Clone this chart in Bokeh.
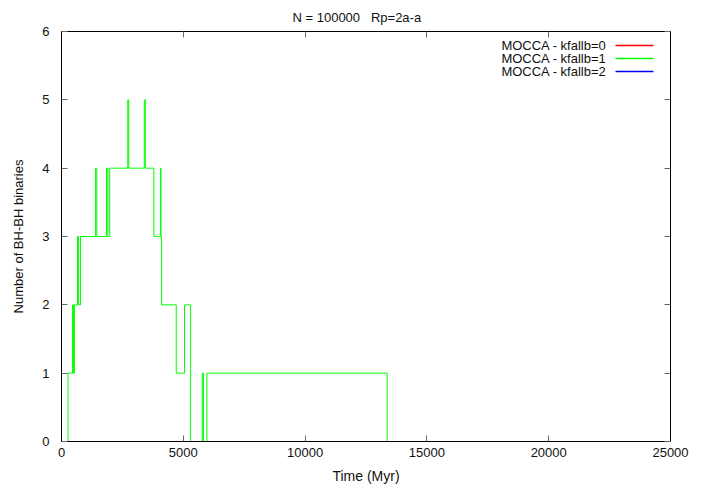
from bokeh.plotting import figure
from bokeh.models import Range1d, LinearAxis, Label, FixedTicker, CustomJSTickFormatter
from bokeh.embed import file_html
from bokeh.resources import INLINE

# ---- data ----
time_myr = [0, 270, 450, 490, 530, 655, 700, 780, 1400, 1450, 1850, 1900, 1980,
            2720, 2760, 3400, 3440, 3790, 4060, 4085, 4105, 4710, 5050, 5300,
            5780, 5830, 5970, 13370, 13400]
n_bhbh_kfallb1 = [0, 1, 2, 1, 2, 3, 2, 3, 4, 3, 4, 3, 4,
                  5, 4, 5, 4, 3, 4, 3, 2, 1, 2, 0,
                  1, 0, 1, 0, 0]
time_kfallb2 = [0, 25000]
n_bhbh_kfallb2 = [0, 0]
time_kfallb0 = []
n_bhbh_kfallb0 = []

legend_labels = ["MOCCA - kfallb=0", "MOCCA - kfallb=1", "MOCCA - kfallb=2"]
series_colors = ["#ff0000", "#00ff00", "#0000ff"]
x_ticks = [0, 5000, 10000, 15000, 20000, 25000]
y_ticks = [0, 1, 2, 3, 4, 5, 6]
title_text = "N = 100000 \u00a0 Rp=2a-a"
x_label = "Time (Myr)"
y_label = "Number of BH-BH binaries"

FONT = "Liberation Sans"
X0, X1, Y0, Y1 = 0, 25000, 0, 6
FW, FH = 609, 410

p = figure(frame_width=FW, frame_height=FH,
           x_range=Range1d(X0, X1), y_range=Range1d(Y0, Y1),
           output_backend="svg", toolbar_location=None,
           min_border_left=61, min_border_right=28, min_border_top=31, min_border_bottom=10,
           background_fill_color="white", border_fill_color="white")

p.title.text = title_text
p.title.align = "left"
p.title.text_font = FONT
p.title.text_font_size = "13px"
p.title.text_font_style = "normal"
p.title.text_color = "#111111"
p.title.offset = 231
p.title.standoff = 14

p.grid.visible = False
p.outline_line_color = "#000000"
p.outline_line_width = 1

for ax in (p.xaxis[0], p.yaxis[0]):
    ax.axis_line_color = "#000000"
    ax.major_tick_in = 6
    ax.major_tick_out = 0
    ax.minor_tick_line_color = None
    ax.major_tick_line_color = "#666666"
    ax.major_label_text_font = FONT
    ax.major_label_text_font_size = "13px"
    ax.major_label_text_color = "#111111"
    ax.axis_label_text_font = FONT
    ax.axis_label_text_font_size = "13px"
    ax.axis_label_text_font_style = "normal"
    ax.axis_label_text_color = "#111111"

p.xaxis[0].ticker = FixedTicker(ticks=x_ticks)
p.yaxis[0].ticker = FixedTicker(ticks=y_ticks)
p.xaxis[0].axis_label = x_label
p.yaxis[0].axis_label = y_label
p.xaxis[0].axis_label_text_font_size = "14px"
p.xaxis[0].major_label_standoff = 6
p.xaxis[0].axis_label_standoff = 8
p.yaxis[0].major_label_standoff = 12
p.yaxis[0].axis_label_standoff = 13

# mirror ticks on top and right (no labels)
blank = CustomJSTickFormatter(code="return ''")
for loc, tk in (("above", x_ticks), ("right", y_ticks)):
    ax = LinearAxis(ticker=FixedTicker(ticks=tk), formatter=blank)
    ax.major_label_standoff = 0
    ax.major_tick_in = 6
    ax.major_tick_out = 0
    ax.minor_tick_line_color = None
    ax.major_tick_line_color = "#666666"
    ax.axis_line_color = "#000000"
    p.add_layout(ax, loc)

# data lines
p.step(time_kfallb0, n_bhbh_kfallb0, mode="after", line_color=series_colors[0], line_width=1)
p.step(time_myr, n_bhbh_kfallb1, mode="after", line_color=series_colors[1], line_width=1)
p.step(time_kfallb2, n_bhbh_kfallb2, mode="after", line_color=series_colors[2], line_width=1)

# gnuplot-style key: text right-aligned, sample line to its right
sx = (X1 - X0) / FW
sy = (Y1 - Y0) / FH
key_text_right_px = 545   # from frame left
key_line_px = (554, 592)
key_rows_px = [14, 27, 40]  # from frame top
for lab, col, r in zip(legend_labels, series_colors, key_rows_px):
    yv = Y1 - r * sy
    p.add_layout(Label(x=X0 + key_text_right_px * sx, y=yv, text=lab,
                       text_align="right", text_baseline="middle",
                       text_font=FONT, text_font_size="13px", text_color="#111111"))
    p.segment(x0=[X0 + key_line_px[0] * sx], y0=[yv], x1=[X0 + key_line_px[1] * sx], y1=[yv],
              line_color=col, line_width=1.4)

open("out.html", "w").write(file_html(p, INLINE))
